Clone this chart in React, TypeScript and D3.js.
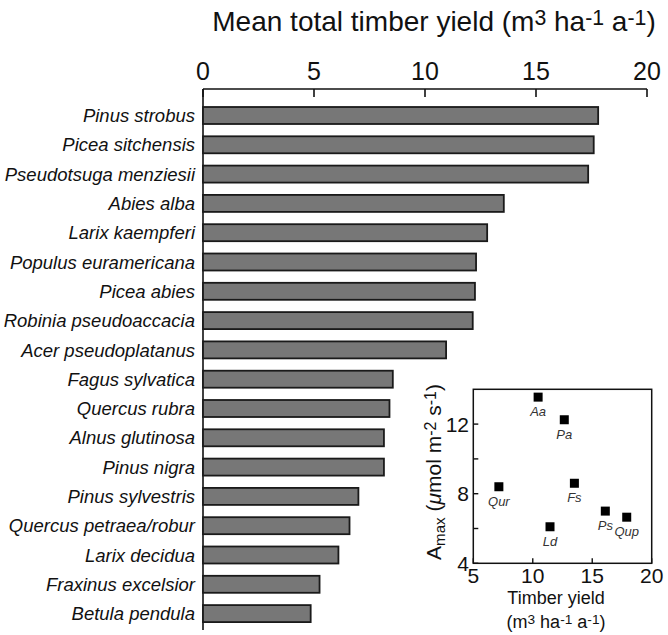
import React from 'react';
import * as d3 from 'd3';

const species = [
  'Pinus strobus', 'Picea sitchensis', 'Pseudotsuga menziesii', 'Abies alba',
  'Larix kaempferi', 'Populus euramericana', 'Picea abies', 'Robinia pseudoaccacia',
  'Acer pseudoplatanus', 'Fagus sylvatica', 'Quercus rubra', 'Alnus glutinosa',
  'Pinus nigra', 'Pinus sylvestris', 'Quercus petraea/robur', 'Larix decidua',
  'Fraxinus excelsior', 'Betula pendula',
];
const yieldValues = [17.8, 17.6, 17.35, 13.55, 12.8, 12.3, 12.25, 12.15, 10.95, 8.55, 8.4, 8.15, 8.15, 7.0, 6.6, 6.1, 5.25, 4.85];
const yieldTicks = [0, 5, 10, 15, 20];

const insetCodes = ['Aa', 'Pa', 'Qur', 'Fs', 'Ld', 'Ps', 'Qup'];
const insetYield = [10.45, 12.65, 7.15, 13.5, 11.45, 16.1, 17.9];
const insetAmax = [13.55, 12.25, 8.4, 8.6, 6.1, 7.0, 6.65];
const insetXTicks = [5, 10, 15, 20];
const insetYTicks = [4, 6, 8, 10, 12];
const insetYLabels = [4, 8, 12];

type Seg = { t: string; sup?: boolean; sub?: boolean; it?: boolean };

function rich(segs: Seg[], fs: number) {
  let cur = 0;
  return segs.map((s, i) => {
    let target = 0;
    let size = fs;
    if (s.sup) { target = -fs * 0.22; size = fs * 0.76; }
    if (s.sub) { target = fs * 0.2; size = fs * 0.72; }
    const dy = target - cur;
    cur = target;
    return (
      <tspan key={i} dy={dy} fontSize={size} fontStyle={s.it ? 'italic' : undefined}>{s.t}</tspan>
    );
  });
}

const FONT = '"Liberation Sans", Arial, Helvetica, sans-serif';

export default function App() {
  const W = 668, H = 635;
  const x = d3.scaleLinear().domain([0, 20]).range([203, 647]);
  const y = d3.scaleBand<string>().domain(species).range([100.85, 628.25]).paddingInner(0.42).paddingOuter(0.21);
  const axisY = 89;

  const ix = d3.scaleLinear().domain([5, 20]).range([473.3, 651.7]);
  const iy = d3.scaleLinear().domain([4, 14]).range([563.3, 389.3]);

  const unitSegs: Seg[] = [
    { t: '(m' }, { t: '3', sup: true }, { t: ' ha' }, { t: '-1', sup: true }, { t: ' a' }, { t: '-1', sup: true }, { t: ')' },
  ];
  const titleSegs: Seg[] = [{ t: 'Mean total timber yield ' }, ...unitSegs];
  const ylabSegs: Seg[] = [
    { t: 'A' }, { t: 'max', sub: true }, { t: ' (' }, { t: 'μ', it: true }, { t: 'mol m' }, { t: '-2', sup: true },
    { t: ' s' }, { t: '-1', sup: true }, { t: ')' },
  ];

  return (
    <svg width={W} height={H} style={{ position: 'absolute', left: 0, top: 0, background: '#fff' }} fontFamily={FONT}>
      {/* Title */}
      <text x={434} y={31} textAnchor="middle" fontSize={28} fill="#111">{rich(titleSegs, 28)}</text>

      {/* top axis */}
      <line x1={x(0)} x2={x(20)} y1={axisY} y2={axisY} stroke="#111" strokeWidth={1.6} />
      {yieldTicks.map((t) => (
        <g key={t}>
          <line x1={x(t)} x2={x(t)} y1={axisY} y2={axisY + 8} stroke="#111" strokeWidth={1.6} />
          <text x={x(t)} y={80} textAnchor="middle" fontSize={25} fill="#111">{t}</text>
        </g>
      ))}
      {/* left axis */}
      <line x1={x(0)} x2={x(0)} y1={axisY} y2={630} stroke="#111" strokeWidth={1.6} />

      {/* bars */}
      {species.map((s, i) => (
        <g key={s}>
          <rect x={x(0)} y={y(s)!} width={x(yieldValues[i]) - x(0)} height={y.bandwidth()} fill="#777777" stroke="#1a1a1a" strokeWidth={1.8} />
          <text x={195} y={y(s)! + y.bandwidth() / 2} dy="0.36em" textAnchor="end" fontSize={18.5} fontStyle="italic" fill="#111">{s}</text>
        </g>
      ))}

      {/* inset */}
      <rect x={ix(5)} y={iy(14)} width={ix(20) - ix(5)} height={iy(4) - iy(14)} fill="#fff" stroke="#111" strokeWidth={1.5} />
      {insetXTicks.map((t) => (
        <g key={'x' + t}>
          <line x1={ix(t)} x2={ix(t)} y1={iy(4)} y2={iy(4) - 5} stroke="#111" strokeWidth={1.4} />
          <text x={ix(t)} y={583} textAnchor="middle" fontSize={21} fill="#111">{t}</text>
        </g>
      ))}
      {insetYTicks.map((t) => (
        <line key={'y' + t} x1={ix(5)} x2={ix(5) + 5} y1={iy(t)} y2={iy(t)} stroke="#111" strokeWidth={1.4} />
      ))}
      {insetYLabels.map((t) => (
        <text key={'yl' + t} x={469} y={iy(t)} dy="0.36em" textAnchor="end" fontSize={21} fill="#111">{t}</text>
      ))}
      {insetCodes.map((c, i) => (
        <g key={c}>
          <rect x={ix(insetYield[i]) - 4.5} y={iy(insetAmax[i]) - 4.5} width={9} height={9} fill="#000" />
          <text x={ix(insetYield[i])} y={iy(insetAmax[i]) + 19} textAnchor="middle" fontSize={13} fontStyle="italic" fill="#333">{c}</text>
        </g>
      ))}
      <text x={556} y={604} textAnchor="middle" fontSize={18} fill="#111">Timber yield</text>
      <text x={556} y={628} textAnchor="middle" fontSize={18} fill="#111">{rich(unitSegs, 18)}</text>
      <text transform="translate(441,472) rotate(-90)" textAnchor="middle" fontSize={21} fill="#111">{rich(ylabSegs, 21)}</text>
    </svg>
  );
}
